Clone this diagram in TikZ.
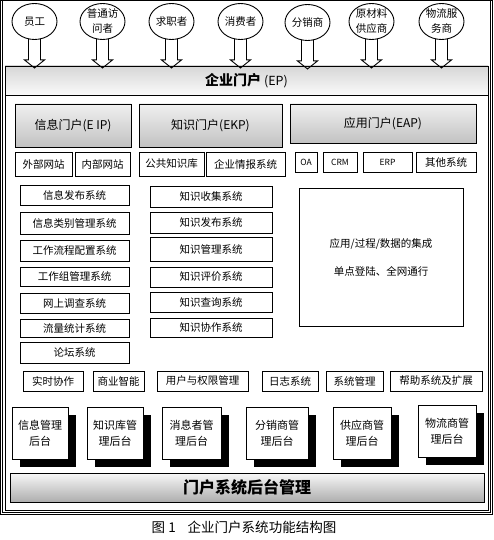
\documentclass[tikz,border=0pt]{standalone}
\usepackage{fontspec}
\setmainfont{Noto Sans CJK SC}
\usetikzlibrary{shapes.geometric,shadows}
\tikzset{
  box/.style={draw, line width=0.9pt, fill=white, inner sep=0pt, font=\fontsize{10.5}{12}\selectfont},
  smallbox/.style={box, font=\fontsize{8.5}{10}\selectfont},
  portal/.style={draw, line width=0.9pt, inner sep=0pt, shading=axis, top color=white!94!black, bottom color=white!76!black, font=\fontsize{12}{14}\selectfont},
  shadowbox/.style={box, align=center, font=\fontsize{11}{16}\selectfont, drop shadow={shadow xshift=8pt, shadow yshift=-8pt, fill=black, opacity=1}},
  bigbox/.style={box, align=center, font=\fontsize{10.5}{28}\selectfont},
  visitor/.style={draw, ellipse, line width=0.9pt, fill=white, inner sep=0pt, minimum width=45pt, minimum height=36pt, align=center, font=\fontsize{10.5}{15}\selectfont},
  blockarrow/.style={draw, line width=0.9pt},
  frameline/.style={draw, line width=0.9pt},
}
\newcommand{\bx}[7][box]{\node[#1, minimum width={#5-#3}, minimum height={#6-#4}] (#2) at ({(#3+#5)/2},{(#4+#6)/2}) {#7};}
\newcommand{\barrowfrom}[1]{\draw[blockarrow] (#1.south) ++(-6,-1) -- ++(0,21) -- ++(-4,0) -- ++(10,8) -- ++(10,-8) -- ++(-4,0) -- ++(0,-21);}
\begin{document}
\begin{tikzpicture}[x=1pt,y=-1pt]
\useasboundingbox (0,0) rectangle (493,540);
\fill[white] (0,0) rectangle (493,540);
% outer frame
\draw[frameline] (0.5,0.5) rectangle (492.5,514.5);
\draw[frameline] (2.5,0.5) -- (2.5,512.5) -- (490.5,512.5) -- (490.5,0.5);
% EP frame and header
\bx[frameline, inner sep=0pt]{epframe}{5}{66}{488}{510}{}
\node[draw, line width=0.9pt, inner sep=0pt, shading=axis, top color=white!84!black, bottom color=white!98!black, minimum width=483pt, minimum height=29pt] (ep) at (246.5,80.5) {{\fontsize{14}{16}\selectfont\bfseries 企业门户}\hspace{3pt}{\fontsize{12.5}{14}\selectfont(EP)}};
% visitors
\node[visitor] (e1) at (34.5,21.5) {员工};
\node[visitor] (e2) at (102.5,21.5) {普通访\\问者};
\node[visitor] (e3) at (171.5,21.5) {求职者};
\node[visitor] (e4) at (240.5,21.5) {消费者};
\node[visitor] (e5) at (307.5,22.5) {分销商};
\node[visitor] (e6) at (371.5,21.5) {原材料\\供应商};
\node[visitor] (e7) at (441.5,21.5) {物流服\\务商};
\foreach \e in {e1,e2,e3,e4,e5,e6,e7} {\barrowfrom{\e}}
% portals
\bx[portal]{eip}{15}{104}{131}{147}{信息门户(E IP)}
\bx[portal]{ekp}{139}{104}{282}{147}{知识门户(EKP)}
\bx[portal]{eap}{290}{104}{476}{143}{应用门户(EAP)}
% second row
\bx{w1}{15}{152}{72}{176}{外部网站}
\bx{w2}{75}{152}{130}{176}{内部网站}
\bx{k1}{139}{152}{204}{176}{公共知识库}
\bx{k2}{206}{152}{285}{176}{企业情报系统}
\bx[smallbox]{a1}{295}{152}{317}{172}{OA}
\bx[smallbox]{a2}{323}{152}{357}{172}{CRM}
\bx[smallbox]{a3}{363}{152}{412}{172}{ERP}
\bx{a4}{416}{152}{476}{172}{其他系统}
% left column
\bx{l1}{20}{185}{129}{205}{信息发布系统}
\bx{l2}{20}{212}{129}{234}{信息类别管理系统}
\bx{l3}{20}{240}{129}{261}{工作流程配置系统}
\bx{l4}{20}{267}{129}{286}{工作组管理系统}
\bx{l5}{20}{293}{129}{313}{网上调查系统}
\bx{l6}{20}{319}{129}{337}{流量统计系统}
\bx{l7}{20}{342}{129}{363}{论坛系统}
% right column
\bx{r1}{150}{186}{272}{207}{知识收集系统}
\bx{r2}{150}{212}{272}{233}{知识发布系统}
\bx{r3}{150}{237}{272}{261}{知识管理系统}
\bx{r4}{150}{267}{272}{287}{知识评价系统}
\bx{r5}{150}{292}{272}{312}{知识查询系统}
\bx{r6}{150}{318}{272}{337}{知识协作系统}
% integration box
\bx[bigbox]{integ}{299}{188}{463}{326}{应用/过程/数据的集成\\单点登陆、全网通行}
% bottom row
\bx{b1}{23}{371}{83}{391}{实时协作}
\bx{b2}{93}{371}{144}{391}{商业智能}
\bx{b3}{157}{371}{248}{391}{用户与权限管理}
\bx{b4}{262}{371}{318}{391}{日志系统}
\bx{b5}{326}{371}{383}{391}{系统管理}
\bx{b6}{390}{371}{482}{391}{帮助系统及扩展}
% back-end boxes
\bx[shadowbox]{s1}{12}{407}{68}{459}{信息管理\\后台}
\bx[shadowbox]{s2}{87}{407}{143}{459}{知识库管\\理后台}
\bx[shadowbox]{s3}{162}{407}{221}{459}{消息者管\\理后台}
\bx[shadowbox]{s4}{246}{407}{308}{459}{分销商管\\理后台}
\bx[shadowbox]{s5}{333}{407}{391}{459}{供应商管\\理后台}
\bx[shadowbox]{s6}{418}{405}{476}{457}{物流商管\\理后台}
% bottom bar
\node[draw, line width=0.9pt, inner sep=0pt, shading=axis, top color=white!97!black, bottom color=white!68!black, minimum width=474pt, minimum height=29pt, font=\fontsize{16}{16}\selectfont\bfseries] (backend) at (247,487.5) {门户系统后台管理};
% caption
\node[inner sep=0pt, font=\fontsize{13.5}{14}\selectfont] (caption) at (244,527) {图 1\hspace{12pt}企业门户系统功能结构图};
\end{tikzpicture}
\end{document}
